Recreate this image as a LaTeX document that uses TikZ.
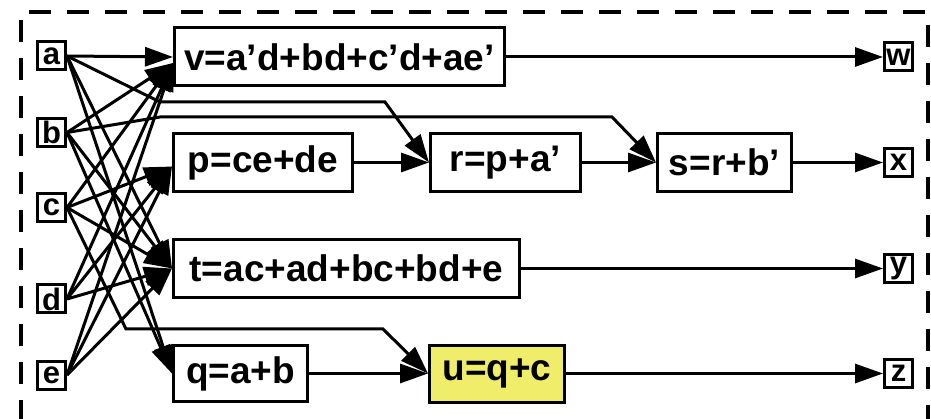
\documentclass[tikz,border=0pt]{standalone}
\usepackage{fontspec}
\setmainfont{Liberation Sans}
\usetikzlibrary{arrows.meta,calc}
\definecolor{gateyellow}{RGB}{239,237,106}
\begin{document}
\begin{tikzpicture}[x=1pt,y=-1pt,
  wire/.style={line width=3pt},
  arr/.style={wire,-{Triangle[length=28pt,width=19pt]}},
  io/.style={draw,line width=3pt,minimum width=28pt,minimum height=28pt,
    inner sep=0pt,font=\fontsize{31}{31}\selectfont\bfseries},
  gate/.style={draw,line width=3pt,minimum height=58pt,inner sep=0pt,
    font=\fontsize{37}{37}\selectfont\bfseries}]
\useasboundingbox (0,0) rectangle (931,419);
\clip (0,0) rectangle (931,419);

% dashed enclosure, open below the visible area
\draw[line width=3.5pt,dash pattern=on 22pt off 16pt]
  (21,460) -- (21,12) -- (928,12) -- (928,460);

% primary inputs
\node[io] (a) at (51.5,56)    {a};
\node[io] (b) at (51.5,132.5) {b};
\node[io] (c) at (51.5,207.5) {c};
\node[io] (d) at (51.5,299)   {d};
\node[io] (e) at (51.5,375)   {e};

% primary outputs
\node[io] (w) at (898.5,57)    {w};
\node[io] (x) at (898.5,162.5) {x};
\node[io] (y) at (898.5,268.5) {y};
\node[io] (z) at (898.5,373.5) {z};

% logic nodes
\node[gate,minimum width=330pt] (v) at (339.5,57)  {v=a’d+bd+c’d+ae’};
\node[gate,minimum width=179pt] (p) at (263,162.5) {p=ce+de};
\node[gate,minimum width=150pt] (r) at (505.5,162.5) {r=p+a’};
\node[gate,minimum width=134pt] (s) at (724.5,162.5) {s=r+b’};
\node[gate,minimum width=346pt] (t) at (346.5,268.5) {t=ac+ad+bc+bd+e};
\node[gate,minimum width=134pt,minimum height=56pt] (q) at (240.5,373.5) {q=a+b};
\node[gate,minimum width=135pt,minimum height=57pt,fill=gateyellow] (u) at (497,373.5) {u=q+c};

% landing points on the gate inputs
\coordinate (vin) at ($(v.west)+(0,6)$);
\coordinate (pin) at ($(p.west)+(0,4)$);

% bend points of the routed wires
\coordinate (ar1) at (160,102);
\coordinate (ar2) at (385,102);
\coordinate (bs1) at (160,117);
\coordinate (bs2) at (612,117);
\coordinate (cu1) at (126,329);
\coordinate (cu2) at (383,329);

% fan-in to v
\draw[arr] (a.east) -- (v.west);
\foreach \i in {b,c,d,e} \draw[arr] (\i.east) -- (vin);
% fan-in to p
\foreach \i in {c,d,e} \draw[arr] (\i.east) -- (pin);
% fan-in to t
\foreach \i in {a,b,c,d,e} \draw[arr] (\i.east) -- (t.west);
% fan-in to q
\foreach \i in {a,b} \draw[arr] (\i.east) -- (q.west);

% routed wires
\draw[arr] (a.east) -- (ar1) -- (ar2) -- (r.west);
\draw[arr] (b.east) -- (bs1) -- (bs2) -- (s.west);
\draw[arr] (c.east) -- (cu1) -- (cu2) -- (u.west);

% internal chain
\draw[arr] (p) -- (r);
\draw[arr] (r) -- (s);
\draw[arr] (q) -- (u);

% to outputs
\draw[arr] (v) -- (w);
\draw[arr] (s) -- (x);
\draw[arr] (t) -- (y);
\draw[arr] (u) -- (z);
\end{tikzpicture}
\end{document}
